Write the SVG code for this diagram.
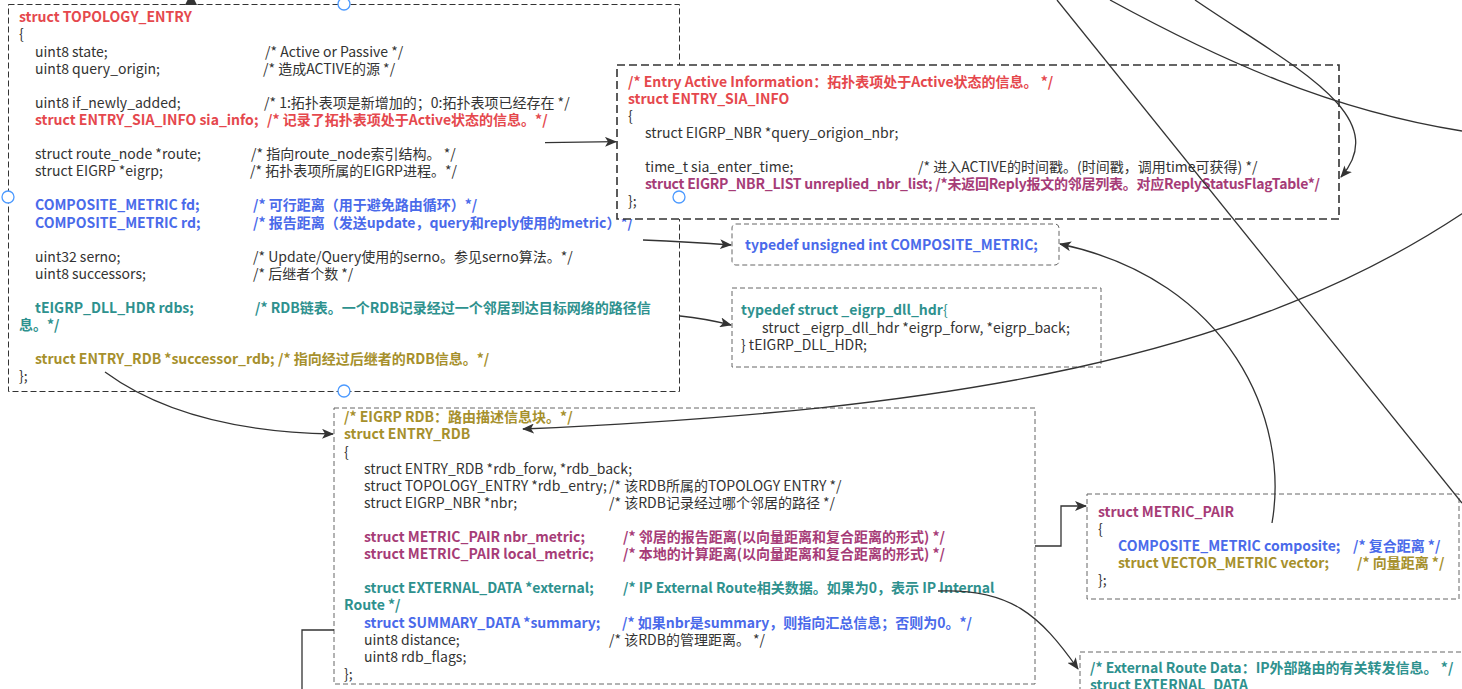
<svg xmlns="http://www.w3.org/2000/svg" width="1462" height="689" viewBox="0 0 1462 689">
  <style>
    .t { font-family: "Noto Sans CJK SC", "Noto Sans", sans-serif; font-size: 14px; fill: #333; }
    .b { font-weight: bold; }
    .red { fill: #E5484D; }
    .blue { fill: #4A6AEA; }
    .teal { fill: #2E918E; }
    .olive { fill: #A6902C; }
    .mag { fill: #A63C77; }
    .box { fill: #fff; stroke: #666; stroke-width: 1; stroke-dasharray: 5 3; }
    .box-dark { fill: #fff; stroke: #333; stroke-width: 1; stroke-dasharray: 6 3; }
    .box-bold { fill: #fff; stroke: #333; stroke-width: 1.6; stroke-dasharray: 8 4; }
    .edge { fill: none; stroke: #333; stroke-width: 1.3; }
    .handle { fill: #fff; stroke: #4C9AFF; stroke-width: 1.3; }
  </style>
  <defs>
    <marker id="arr" viewBox="0 0 12 10" refX="11" refY="5" markerWidth="12" markerHeight="10" orient="auto" markerUnits="userSpaceOnUse">
      <path d="M0,0 L12,5 L0,10 L3,5 z" fill="#333"/>
    </marker>
  </defs>

  <rect width="1462" height="689" fill="#fff"/>

  <!-- struct TOPOLOGY_ENTRY -->
  <g id="topology_entry">
    <rect class="box-dark" x="8.5" y="4.5" width="671" height="387"/>
    <text class="t b red" x="19" y="22.3">struct TOPOLOGY_ENTRY</text>
    <text class="t" x="19" y="39.4">{</text>
    <text class="t" x="35" y="56.5">uint8 state;</text>
    <text class="t" x="265" y="56.5">/* Active or Passive */</text>
    <text class="t" x="35" y="73.6">uint8 query_origin;</text>
    <text class="t" x="263" y="73.6">/* 造成ACTIVE的源 */</text>
    <text class="t" x="35" y="107.8">uint8 if_newly_added;</text>
    <text class="t" x="264" y="107.8">/* 1:拓扑表项是新增加的；0:拓扑表项已经存在 */</text>
    <text class="t b red" x="35" y="124.9">struct ENTRY_SIA_INFO sia_info;</text>
    <text class="t b red" x="267" y="124.9">/* 记录了拓扑表项处于Active状态的信息。*/</text>
    <text class="t" x="35" y="159.1">struct route_node *route;</text>
    <text class="t" x="251" y="159.1">/* 指向route_node索引结构。 */</text>
    <text class="t" x="35" y="176.2">struct EIGRP *eigrp;</text>
    <text class="t" x="250" y="176.2">/* 拓扑表项所属的EIGRP进程。*/</text>
    <text class="t b blue" x="35" y="210.4">COMPOSITE_METRIC fd;</text>
    <text class="t b blue" x="253" y="210.4">/* 可行距离（用于避免路由循环）*/</text>
    <text class="t b blue" x="35" y="227.5">COMPOSITE_METRIC rd;</text>
    <text class="t b blue" x="253" y="227.5">/* 报告距离（发送update，query和reply使用的metric）*/</text>
    <text class="t" x="35" y="261.7">uint32 serno;</text>
    <text class="t" x="253" y="261.7">/* Update/Query使用的serno。参见serno算法。*/</text>
    <text class="t" x="35" y="278.8">uint8 successors;</text>
    <text class="t" x="253" y="278.8">/* 后继者个数 */</text>
    <text class="t b teal" x="35" y="313">tEIGRP_DLL_HDR rdbs;</text>
    <text class="t b teal" x="255" y="313">/* RDB链表。一个RDB记录经过一个邻居到达目标网络的路径信</text>
    <text class="t b teal" x="19" y="330.1">息。*/</text>
    <text class="t b olive" x="35" y="364.3">struct ENTRY_RDB *successor_rdb;</text>
    <text class="t b olive" x="278" y="364.3">/* 指向经过后继者的RDB信息。*/</text>
    <text class="t" x="19" y="381.4">};</text>
  </g>

  <!-- struct ENTRY_SIA_INFO -->
  <g id="entry_sia_info">
    <rect class="box-bold" x="617" y="65" width="722" height="154"/>
    <text class="t b red" x="628" y="86.5">/* Entry Active Information：拓扑表项处于Active状态的信息。 */</text>
    <text class="t b red" x="628" y="103.6">struct ENTRY_SIA_INFO</text>
    <text class="t" x="628" y="120.7">{</text>
    <text class="t" x="645" y="137.8">struct EIGRP_NBR *query_origion_nbr;</text>
    <text class="t" x="645" y="172">time_t sia_enter_time;</text>
    <text class="t" x="918" y="172">/* 进入ACTIVE的时间戳。(时间戳，调用time可获得) */</text>
    <text class="t b mag" x="645" y="189.1" textLength="675" lengthAdjust="spacing">struct EIGRP_NBR_LIST unreplied_nbr_list; /*未返回Reply报文的邻居列表。对应ReplyStatusFlagTable*/</text>
    <text class="t" x="628" y="206.2">};</text>
  </g>

  <!-- typedef COMPOSITE_METRIC -->
  <g id="composite_metric">
    <rect class="box" x="732" y="224" width="327" height="41" rx="4"/>
    <text class="t b blue" x="745" y="250">typedef unsigned int COMPOSITE_METRIC;</text>
  </g>

  <!-- typedef tEIGRP_DLL_HDR -->
  <g id="eigrp_dll_hdr">
    <rect class="box" x="732" y="288" width="369" height="79"/>
    <text class="t" x="741" y="315"><tspan class="b teal">typedef struct _eigrp_dll_hdr</tspan><tspan class="teal">{</tspan></text>
    <text class="t" x="762" y="332.5">struct _eigrp_dll_hdr *eigrp_forw, *eigrp_back;</text>
    <text class="t" x="741" y="349.5">} tEIGRP_DLL_HDR;</text>
  </g>

  <!-- struct ENTRY_RDB -->
  <g id="entry_rdb">
    <rect class="box" x="334" y="408" width="701" height="276"/>
    <text class="t b olive" x="344" y="422.3">/* EIGRP RDB：路由描述信息块。*/</text>
    <text class="t b olive" x="344" y="439.4">struct ENTRY_RDB</text>
    <text class="t" x="344" y="456.5">{</text>
    <text class="t" x="364" y="473.6">struct ENTRY_RDB *rdb_forw, *rdb_back;</text>
    <text class="t" x="364" y="490.7">struct TOPOLOGY_ENTRY *rdb_entry;</text>
    <text class="t" x="609" y="490.7">/* 该RDB所属的TOPOLOGY ENTRY */</text>
    <text class="t" x="364" y="507.8">struct EIGRP_NBR *nbr;</text>
    <text class="t" x="609" y="507.8">/* 该RDB记录经过哪个邻居的路径 */</text>
    <text class="t b mag" x="364" y="542">struct METRIC_PAIR nbr_metric;</text>
    <text class="t b mag" x="623" y="542">/* 邻居的报告距离(以向量距离和复合距离的形式) */</text>
    <text class="t b mag" x="364" y="559.1">struct METRIC_PAIR local_metric;</text>
    <text class="t b mag" x="623" y="559.1">/* 本地的计算距离(以向量距离和复合距离的形式) */</text>
    <text class="t b teal" x="364" y="593.3">struct EXTERNAL_DATA *external;</text>
    <text class="t b teal" x="623" y="593.3">/* IP External Route相关数据。如果为0，表示 IP Internal</text>
    <text class="t b teal" x="344" y="610.4">Route */</text>
    <text class="t b blue" x="364" y="627.5">struct SUMMARY_DATA *summary;</text>
    <text class="t b blue" x="622" y="627.5">/* 如果nbr是summary，则指向汇总信息；否则为0。*/</text>
    <text class="t" x="364" y="644.6">uint8 distance;</text>
    <text class="t" x="609" y="644.6">/* 该RDB的管理距离。 */</text>
    <text class="t" x="364" y="661.7">uint8 rdb_flags;</text>
    <text class="t" x="344" y="678.8">};</text>
  </g>

  <!-- struct METRIC_PAIR -->
  <g id="metric_pair">
    <rect class="box" x="1087" y="494" width="372" height="105"/>
    <text class="t b mag" x="1098" y="516.7">struct METRIC_PAIR</text>
    <text class="t" x="1098" y="533.8">{</text>
    <text class="t b blue" x="1118" y="550.9">COMPOSITE_METRIC composite;</text>
    <text class="t b blue" x="1353" y="550.9">/* 复合距离 */</text>
    <text class="t b olive" x="1118" y="568">struct VECTOR_METRIC vector;</text>
    <text class="t b olive" x="1357" y="568">/* 向量距离 */</text>
    <text class="t" x="1098" y="585.1">};</text>
  </g>

  <!-- struct EXTERNAL_DATA -->
  <g id="external_data">
    <rect class="box" x="1080" y="652" width="400" height="60"/>
    <text class="t b teal" x="1090" y="673.3">/* External Route Data：IP外部路由的有关转发信息。 */</text>
    <text class="t b teal" x="1090" y="690.4">struct EXTERNAL_DATA</text>
  </g>

  <!-- connectors -->
  <g id="connectors">
    <path class="edge" d="M545,142.7 L616,141.7" marker-end="url(#arr)"/>
    <path class="edge" d="M643,240 Q690,242 731,245" marker-end="url(#arr)"/>
    <path class="edge" d="M680,316 C700,318 715,321 731,325" marker-end="url(#arr)"/>
    <path class="edge" d="M105,372 C150,405 220,432 333,434" marker-end="url(#arr)"/>
    <path class="edge" d="M1475,205 C1250,360 950,410 523,429" marker-end="url(#arr)"/>
    <path class="edge" d="M1195,0 C1290,65 1395,115 1341,177" marker-end="url(#arr)"/>
    <path class="edge" d="M1110,0 C1220,60 1330,110 1462,131"/>
    <path class="edge" d="M1057,0 Q1290,290 1462,503"/>
    <path class="edge" d="M1272,523 C1290,420 1230,280 1060,244" marker-end="url(#arr)"/>
    <path class="edge" d="M1035,546 L1061,546 L1061,506 L1086,506" marker-end="url(#arr)"/>
    <path class="edge" d="M938,591 C1010,588 1040,615 1078,669" marker-end="url(#arr)"/>
    <path class="edge" d="M334,630 L302,630 L302,689"/>
    <path d="M185,5 L197,5 L191,-7 z" fill="#333"/>
  </g>

  <!-- selection handles -->
  <g id="handles">
    <circle class="handle" cx="344" cy="4" r="6"/>
    <circle class="handle" cx="8" cy="197" r="6"/>
    <circle class="handle" cx="679" cy="197" r="6"/>
    <circle class="handle" cx="344" cy="391" r="6"/>
  </g>
</svg>
